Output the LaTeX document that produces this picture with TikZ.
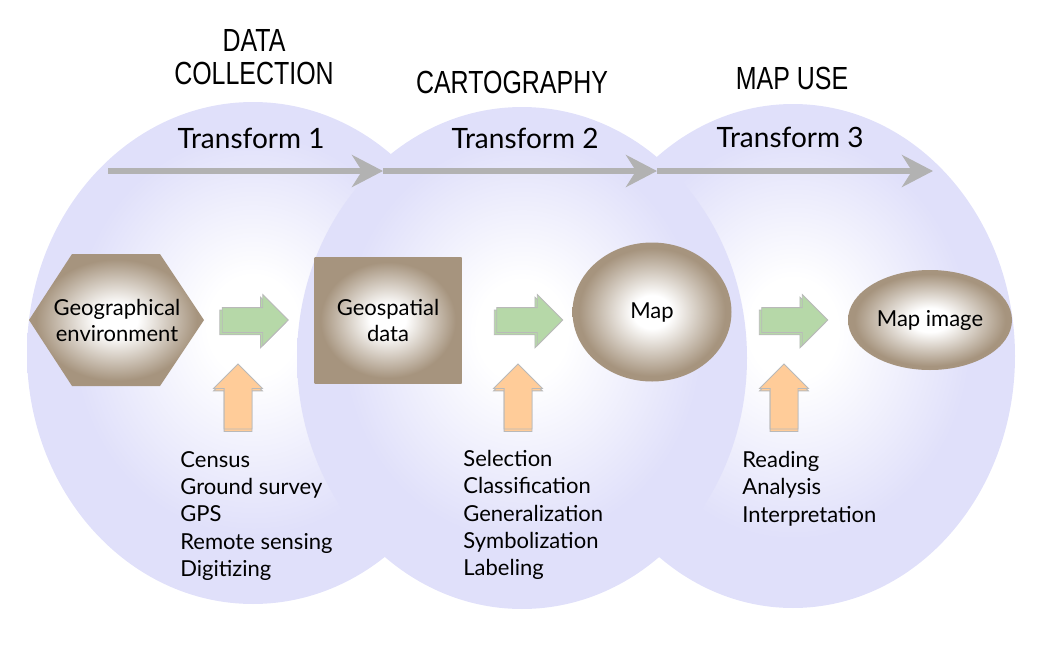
\documentclass[tikz,border=0pt]{standalone}
\usepackage{fontspec}
\setmainfont{Lato}
\newfontfamily\headfont[FakeStretch=0.78]{Liberation Sans}
\usepackage {tikz}
\usetikzlibrary {arrows.meta,shapes.geometric,shapes.arrows,shadows}

\definecolor{lobe}{RGB}{224,224,250}
\definecolor{earth}{RGB}{166,148,126}
\definecolor{leaf}{RGB}{182,216,168}
\definecolor{peach}{RGB}{255,204,153}
\definecolor{flowgray}{RGB}{178,178,178}

\pgfdeclareradialshading{lobeshade}{\pgfpoint{0bp}{3bp}}{color(0bp)=(white); color(5bp)=(white); color(20bp)=(lobe); color(50bp)=(lobe)}
\pgfdeclareradialshading{earthshade}{\pgfpointorigin}{color(0bp)=(white); color(6bp)=(white); color(23bp)=(earth); color(50bp)=(earth)}

\begin{document}
\begin{tikzpicture}[x=0.5pt, y=-0.5pt,
zone/.style={shade, shading=lobeshade},
blob/.style={shade, shading=earthshade, inner sep=0pt, align=center, font=\fontsize{11}{13}\selectfont},
label/.style={inner sep=0pt, align=center, font=\fontsize{11}{13}\selectfont},
fwd/.style={single arrow, fill=leaf, draw=gray!55, inner sep=6pt, minimum height=33pt, single arrow head extend=6.5pt, copy shadow={shadow xshift=-1.2pt, shadow yshift=-1.2pt}},
feed/.style={single arrow, shape border rotate=90, fill=peach, draw=gray!55, inner sep=6.75pt, minimum height=32.5pt, single arrow head extend=5.25pt, copy shadow={shadow xshift=0pt, shadow yshift=-1.2pt}},
flow/.style={line width=3pt, flowgray, -{Stealth[length=15.5pt, width=16pt, inset=5pt]}},
head/.style={font=\headfont\fontsize{16}{16.5}\selectfont, align=center},
tname/.style={font=\fontsize{14}{16}\selectfont},
items/.style={font=\fontsize{11}{13.65}\selectfont, align=left, anchor=north west, inner sep=0pt}]

\useasboundingbox (0,0) rectangle (1041,665);

% the three stages
\path[zone] (253,353) ellipse [x radius=226, y radius=251];
\path[zone] (793,356) ellipse [x radius=222, y radius=252];
\path[zone] (522,358) ellipse [x radius=225, y radius=251];

\node[head]  (9)  at (254,57)  {DATA\\COLLECTION};
\node[head]  (10) at (512,82)  {CARTOGRAPHY};
\node[head]  (11) at (792,78)  {MAP USE};
\node[tname] (12) at (251,138) {Transform 1};
\node[tname] (13) at (525,138) {Transform 2};
\node[tname] (14) at (790,137) {Transform 3};

\coordinate (5) at (108,171);
\coordinate (6) at (383,171);
\coordinate (7) at (657,171);
\coordinate (8) at (933,171);
\draw[flow] (5) -- (6);
\draw[flow] (6) -- (7);
\draw[flow] (7) -- (8);

% hexagon drawn by hand, label on top
\path[shade, shading=earthshade] (29,320) -- (72,254) -- (160,254) -- (204,320) -- (160,386) -- (72,386) -- cycle;
\node[label] (1) at (117,320) {Geographical\\environment};
\node[blob, rectangle, minimum width=73.5pt, minimum height=63pt] (2) at (388,320) {Geospatial\\data};
\node[blob, ellipse, minimum width=79.5pt, minimum height=69.5pt] (3) at (652,312) {Map};
\node[blob, ellipse, minimum width=82pt, minimum height=50pt] (4) at (930,320) {Map image};

\node[fwd]  (18) at (249,320)   {};
\node[fwd]  (19) at (523.5,320) {};
\node[fwd]  (20) at (788.5,320) {};
\node[feed] (21) at (238,403.5) {};
\node[feed] (22) at (518,403.5) {};
\node[feed] (23) at (784,403.5) {};

\node[items] (15) at (180,451) {Census\\Ground survey\\GPS\\Remote sensing\\Digitizing};
\node[items] (16) at (463,450) {Selection\\Classification\\Generalization\\Symbolization\\Labeling};
\node[items] (17) at (742,451) {Reading\\Analysis\\Interpretation};

\end{tikzpicture}
\end{document}
